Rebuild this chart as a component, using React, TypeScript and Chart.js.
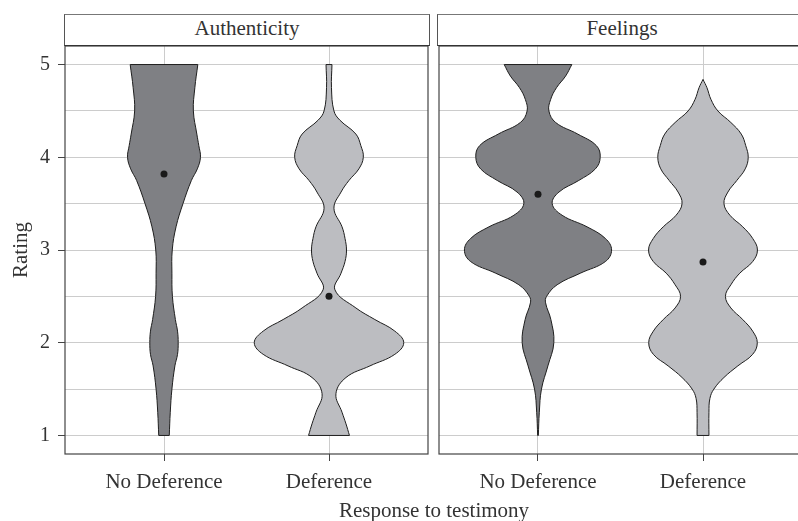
import React, { useEffect, useRef } from 'react';
import { Chart, registerables } from 'chart.js';

Chart.register(...registerables);

// ---------- data ----------
const categories = ['No Deference', 'Deference'];
const facets = ['Authenticity', 'Feelings'];
const yTickValues = [1, 1.5, 2, 2.5, 3, 3.5, 4, 4.5, 5];
const xTickValues = [1, 2];

// Authenticity – No Deference (rating levels and violin half-widths, x units)
const authNoDefY = [1, 1.25, 1.5, 1.75, 1.875, 2, 2.125, 2.25, 2.5, 2.75, 3, 3.25, 3.5, 3.75, 3.875, 4, 4.125, 4.25, 4.5, 4.75, 5];
const authNoDefW = [0.032, 0.038, 0.048, 0.066, 0.082, 0.086, 0.082, 0.069, 0.051, 0.048, 0.05, 0.073, 0.115, 0.166, 0.202, 0.221, 0.211, 0.199, 0.178, 0.187, 0.205];

// Authenticity – Deference
const authDefY = [1, 1.125, 1.25, 1.45, 1.625, 1.75, 1.875, 2, 2.125, 2.25, 2.375, 2.57, 2.75, 2.875, 3, 3.125, 3.25, 3.45, 3.625, 3.75, 3.875, 4, 4.125, 4.25, 4.4, 4.5, 4.75, 5];
const authDefW = [0.124, 0.103, 0.079, 0.042, 0.103, 0.248, 0.399, 0.453, 0.399, 0.278, 0.163, 0.036, 0.073, 0.097, 0.106, 0.097, 0.079, 0.03, 0.073, 0.121, 0.181, 0.208, 0.193, 0.163, 0.066, 0.03, 0.015, 0.018];

// Feelings – No Deference
const feelNoDefY = [1, 1.25, 1.5, 1.75, 2, 2.25, 2.43, 2.5, 2.625, 2.75, 2.875, 3, 3.125, 3.25, 3.375, 3.5, 3.625, 3.75, 3.875, 4, 4.125, 4.25, 4.375, 4.5, 4.625, 4.75, 4.875, 5];
const feelNoDefW = [0.002, 0.008, 0.021, 0.06, 0.096, 0.078, 0.046, 0.052, 0.116, 0.257, 0.408, 0.446, 0.408, 0.297, 0.146, 0.086, 0.127, 0.247, 0.348, 0.377, 0.354, 0.241, 0.107, 0.066, 0.077, 0.112, 0.167, 0.205];

// Feelings – Deference
const feelDefY = [1, 1.25, 1.4, 1.5, 1.625, 1.75, 1.875, 2, 2.125, 2.25, 2.375, 2.5, 2.625, 2.75, 2.875, 3, 3.125, 3.25, 3.375, 3.5, 3.625, 3.75, 3.875, 4, 4.125, 4.25, 4.375, 4.5, 4.625, 4.75, 4.84];
const feelDefW = [0.036, 0.036, 0.042, 0.066, 0.127, 0.211, 0.301, 0.329, 0.301, 0.241, 0.169, 0.136, 0.169, 0.223, 0.301, 0.33, 0.301, 0.241, 0.163, 0.127, 0.151, 0.205, 0.256, 0.274, 0.259, 0.232, 0.169, 0.09, 0.048, 0.024, 0];

// group means (dots)
const authMeans = [3.82, 2.5];
const feelMeans = [3.6, 2.87];

// ---------- styles ----------
const FONT = "'Liberation Serif', 'Times New Roman', serif";
const TEXT = '#333333';
const GRID = '#cccccc';
const FRAME = '#444444';
const OUTLINE = '#1e1e1e';
const FILLS = ['#7f8084', '#bcbdc1'];
const X_MIN = 0.4;
const X_MAX = 2.6;
const Y_MIN = 0.8;
const Y_MAX = 5.2;

type Violin = { ys: number[]; ws: number[] };

function buildDatasets(violins: Violin[], means: number[]) {
  const ds: any[] = [];
  const cap = { borderColor: OUTLINE, borderWidth: 1, pointRadius: 0, fill: false, tension: 0 };
  violins.forEach((v, i) => {
    const c = i + 1;
    ds.push({
      data: v.ys.map((y, k) => ({ x: c - v.ws[k], y })),
      borderColor: OUTLINE,
      borderWidth: 1,
      pointRadius: 0,
      fill: false,
      tension: 0.4,
    });
    ds.push({
      data: v.ys.map((y, k) => ({ x: c + v.ws[k], y })),
      borderColor: OUTLINE,
      borderWidth: 1,
      pointRadius: 0,
      fill: '-1',
      backgroundColor: FILLS[i],
      tension: 0.4,
    });
    const n = v.ys.length - 1;
    ds.push({ ...cap, data: [{ x: c - v.ws[0], y: v.ys[0] }, { x: c + v.ws[0], y: v.ys[0] }] });
    ds.push({ ...cap, data: [{ x: c - v.ws[n], y: v.ys[n] }, { x: c + v.ws[n], y: v.ys[n] }] });
  });
  means.forEach((m, i) => {
    ds.push({
      data: [{ x: i + 1, y: m }],
      showLine: false,
      pointRadius: 3.5,
      pointBackgroundColor: '#1a1a1a',
      pointBorderWidth: 0,
      borderColor: '#1a1a1a',
    });
  });
  return ds;
}

const framePlugin = {
  id: 'frame',
  afterDatasetsDraw(chart: any) {
    const { ctx, chartArea: a } = chart;
    ctx.save();
    ctx.strokeStyle = FRAME;
    ctx.lineWidth = 1.2;
    ctx.strokeRect(a.left, a.top, a.right - a.left, a.bottom - a.top);
    ctx.restore();
  },
};

function makeChart(canvas: HTMLCanvasElement, violins: Violin[], means: number[], showY: boolean, padL: number, padR: number) {
  return new Chart(canvas, {
    type: 'line',
    data: { datasets: buildDatasets(violins, means) },
    options: {
      indexAxis: 'y',
      animation: false,
      responsive: false,
      devicePixelRatio: 1,
      layout: { padding: { left: padL, right: padR, top: 46, bottom: 0 } },
      plugins: {
        legend: { display: false },
        tooltip: { enabled: false },
        filler: { drawTime: 'beforeDatasetsDraw' },
      },
      scales: {
        x: {
          type: 'linear',
          min: X_MIN,
          max: X_MAX,
          afterBuildTicks: (s: any) => {
            s.ticks = xTickValues.map((value) => ({ value }));
          },
          afterFit: (s: any) => {
            s.height = 67;
          },
          ticks: {
            callback: (v: any) => categories[Math.round(Number(v)) - 1],
            maxRotation: 0,
            autoSkip: false,
            color: TEXT,
            font: { family: FONT, size: 21 },
            padding: 9,
          },
          grid: { color: GRID, tickColor: FRAME, tickLength: 7, lineWidth: 1 },
          border: { display: false },
        },
        y: {
          type: 'linear',
          min: Y_MIN,
          max: Y_MAX,
          afterBuildTicks: (s: any) => {
            s.ticks = yTickValues.map((value) => ({ value }));
          },
          afterFit: (s: any) => {
            s.width = showY ? 65 : 0;
          },
          ticks: {
            display: showY,
            callback: (v: any) => (Number.isInteger(Number(v)) ? String(v) : ''),
            color: TEXT,
            font: { family: FONT, size: 20 },
            padding: 8,
          },
          grid: {
            color: GRID,
            lineWidth: 1,
            drawTicks: showY,
            tickLength: 7,
            tickColor: (ctx: any) => (ctx.tick && Number.isInteger(ctx.tick.value) ? FRAME : 'rgba(0,0,0,0)'),
          },
          border: { display: false },
          title: {
            display: showY,
            text: 'Rating',
            color: TEXT,
            font: { family: FONT, size: 21 },
            padding: { top: 9, bottom: 0 },
          },
        },
      },
    } as any,
    plugins: [framePlugin],
  });
}

function Strip({ left, width, label }: { left: number; width: number; label: string }) {
  return (
    <div
      style={{
        position: 'absolute',
        left,
        top: 14,
        width,
        height: 32,
        boxSizing: 'border-box',
        borderTop: '1px solid #777',
        borderLeft: '1px solid #555',
        borderRight: '1px solid #555',
        borderBottom: '1.5px solid #333',
        background: '#fff',
        textAlign: 'center',
        fontFamily: FONT,
        fontSize: 21,
        lineHeight: '20px',
        paddingTop: 3,
        color: TEXT,
      }}
    >
      {label}
    </div>
  );
}

export default function App() {
  const leftRef = useRef<HTMLCanvasElement>(null);
  const rightRef = useRef<HTMLCanvasElement>(null);

  useEffect(() => {
    const left = makeChart(
      leftRef.current!,
      [
        { ys: authNoDefY, ws: authNoDefW },
        { ys: authDefY, ws: authDefW },
      ],
      authMeans,
      true,
      0,
      3
    );
    const right = makeChart(
      rightRef.current!,
      [
        { ys: feelNoDefY, ws: feelNoDefW },
        { ys: feelDefY, ws: feelDefW },
      ],
      feelMeans,
      false,
      3,
      3
    );
    return () => {
      left.destroy();
      right.destroy();
    };
  }, []);

  return (
    <div
      style={{
        position: 'absolute',
        left: 0,
        top: 0,
        width: 798,
        height: 521,
        overflow: 'hidden',
        background: '#fff',
      }}
    >
      <canvas ref={leftRef} width={432} height={521} style={{ position: 'absolute', left: 0, top: 0 }} />
      <canvas ref={rightRef} width={371} height={521} style={{ position: 'absolute', left: 435, top: 0 }} />
      <Strip left={64} width={366} label={facets[0]} />
      <Strip left={437} width={370} label={facets[1]} />
      <div
        style={{
          position: 'absolute',
          left: 0,
          width: 868,
          top: 500,
          textAlign: 'center',
          fontFamily: FONT,
          fontSize: 21,
          lineHeight: '20px',
          color: TEXT,
          whiteSpace: 'nowrap',
        }}
      >
        Response to testimony
      </div>
    </div>
  );
}
